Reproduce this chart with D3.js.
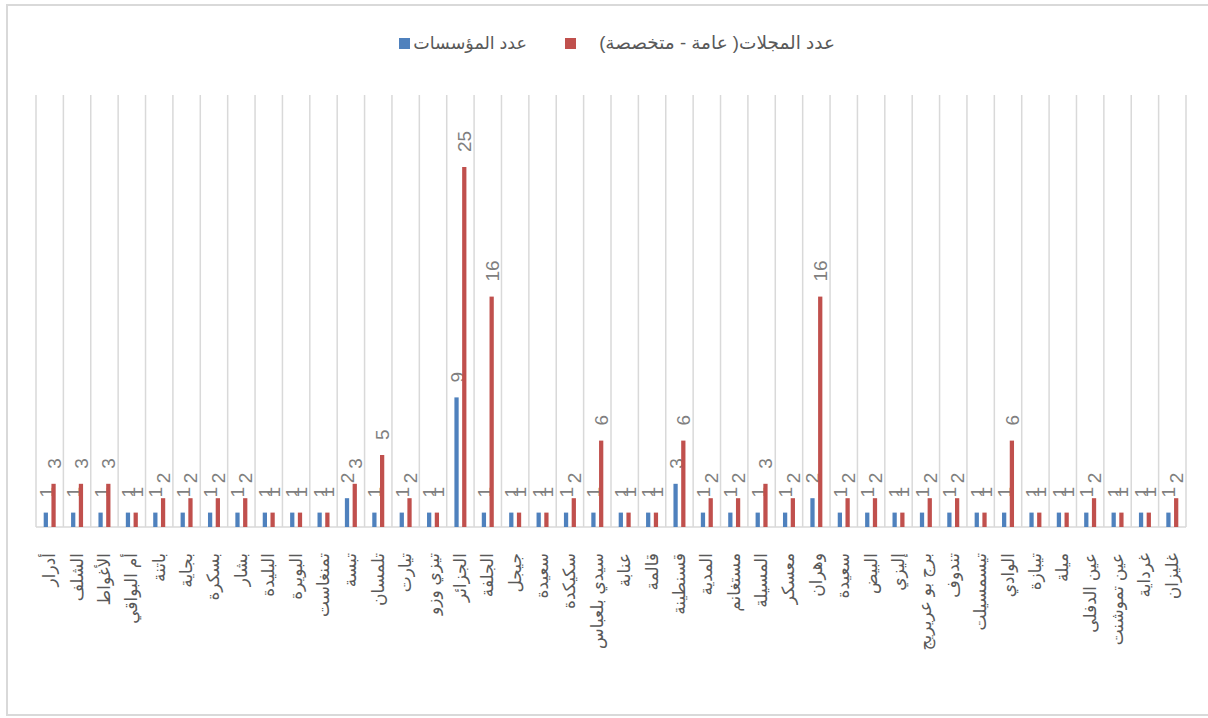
<!DOCTYPE html>
<html lang="ar">
<head>
<meta charset="utf-8">
<script src="https://cdn.jsdelivr.net/npm/d3@7"></script>
<style>
  html, body { margin: 0; padding: 0; background: #ffffff; }
  svg { display: block; }
  text { font-family: "Liberation Sans", "DejaVu Sans", sans-serif; }
</style>
</head>
<body>
<svg id="chart" width="1208" height="718"></svg>
<script>
// Wilayas (categories), in display order
const categories = [
  "أدرار", "الشلف", "الأغواط", "أم البواقي", "باتنة", "بجاية", "بسكرة", "بشار",
  "البليدة", "البويرة", "تمنغاست", "تبسة", "تلمسان", "تيارت", "تيزي وزو", "الجزائر",
  "الجلفة", "جيجل", "سعيدة", "سكيكدة", "سيدي بلعباس", "عنابة", "قالمة", "قسنطينة",
  "المدية", "مستغانم", "المسيلة", "معسكر", "وهران", "سعيدة", "البيض", "إليزي",
  "برج بو عريريج", "تندوف", "تيسمسيلت", "الوادي", "تيبازة", "ميلة", "عين الدفلى",
  "عين تموشنت", "غرداية", "غليزان"
];

// Number of institutions per wilaya
const institutions = [
  1, 1, 1, 1, 1, 1, 1, 1, 1, 1, 1, 2, 1, 1, 1, 9,
  1, 1, 1, 1, 1, 1, 1, 3, 1, 1, 1, 1, 2, 1, 1, 1,
  1, 1, 1, 1, 1, 1, 1, 1, 1, 1
];

// Number of journals (general + specialised) per wilaya
const journals = [
  3, 3, 3, 1, 2, 2, 2, 2, 1, 1, 1, 3, 5, 2, 1, 25,
  16, 1, 1, 2, 6, 1, 1, 6, 2, 2, 3, 2, 16, 2, 2, 1,
  2, 2, 1, 6, 1, 1, 2, 1, 1, 2
];

const seriesNames = ["عدد المؤسسات", "عدد المجلات( عامة - متخصصة)"];
const seriesColors = ["#4f81bd", "#c0504d"];
const yDomain = [0, 30];

const svg = d3.select("#chart");

// outer chart frame
svg.append("rect")
  .attr("x", 7).attr("y", 5)
  .attr("width", 1210).attr("height", 710)
  .attr("fill", "#ffffff")
  .attr("stroke", "#d9d9d9").attr("stroke-width", 2);

const plot = { left: 36, right: 1186, top: 95, bottom: 527 };

const x = d3.scaleBand()
  .domain(d3.range(categories.length))
  .range([plot.left, plot.right])
  .paddingInner(0).paddingOuter(0);

const y = d3.scaleLinear().domain(yDomain).range([plot.bottom, plot.top]);

// position of each series' bar inside its category
const sub = d3.scaleBand()
  .domain([0, 1])
  .range([x.bandwidth() / 2 - 6, x.bandwidth() / 2 + 6])
  .paddingInner(0.45).paddingOuter(0);

// vertical category separators
const g = svg.append("g");
g.selectAll("line.grid")
  .data(d3.range(categories.length + 1))
  .join("line")
  .attr("class", "grid")
  .attr("x1", i => plot.left + i * x.step())
  .attr("x2", i => plot.left + i * x.step())
  .attr("y1", plot.top).attr("y2", plot.bottom)
  .attr("stroke", "#d9d9d9").attr("stroke-width", 1.5);

// category axis line
g.append("line")
  .attr("x1", plot.left).attr("x2", plot.right)
  .attr("y1", plot.bottom).attr("y2", plot.bottom)
  .attr("stroke", "#d9d9d9").attr("stroke-width", 1.5);

const series = [institutions, journals];

series.forEach((vals, s) => {
  const gs = svg.append("g");
  gs.selectAll("rect")
    .data(vals)
    .join("rect")
    .attr("x", (d, i) => x(i) + sub(s))
    .attr("y", d => y(d))
    .attr("width", sub.bandwidth())
    .attr("height", d => y(0) - y(d))
    .attr("fill", seriesColors[s]);

  // value labels, rotated to read bottom-to-top
  gs.selectAll("text")
    .data(vals)
    .join("text")
    .attr("transform", (d, i) => {
      const cx = x(i) + sub(s) + sub.bandwidth() / 2 + 7;
      const cy = y(d) - 15;
      return `translate(${cx},${cy}) rotate(-90)`;
    })
    .attr("text-anchor", "start")
    .attr("font-size", 19)
    .attr("fill", "#7f7f7f")
    .text(d => d);
});

// category labels, vertical
svg.append("g")
  .selectAll("text")
  .data(categories)
  .join("text")
  .attr("transform", (d, i) => `translate(${x(i) + x.bandwidth() / 2 + 5.5},553) rotate(-90)`)
  .attr("text-anchor", "end")
  .attr("font-size", 17)
  .attr("fill", "#595959")
  .text(d => d);

// legend
const legend = [
  { sq: 399, tx: 527, i: 0 },
  { sq: 565, tx: 835, i: 1 }
];
const lg = svg.append("g");
legend.forEach(l => {
  lg.append("rect")
    .attr("x", l.sq).attr("y", 38)
    .attr("width", 11).attr("height", 11)
    .attr("fill", seriesColors[l.i]);
  lg.append("text")
    .attr("x", l.tx).attr("y", 49)
    .attr("direction", "rtl")
    .attr("text-anchor", "start")
    .attr("font-size", l.i === 1 ? 18.5 : 17.5)
    .attr("fill", "#595959")
    .text(seriesNames[l.i]);
});
</script>
</body>
</html>
